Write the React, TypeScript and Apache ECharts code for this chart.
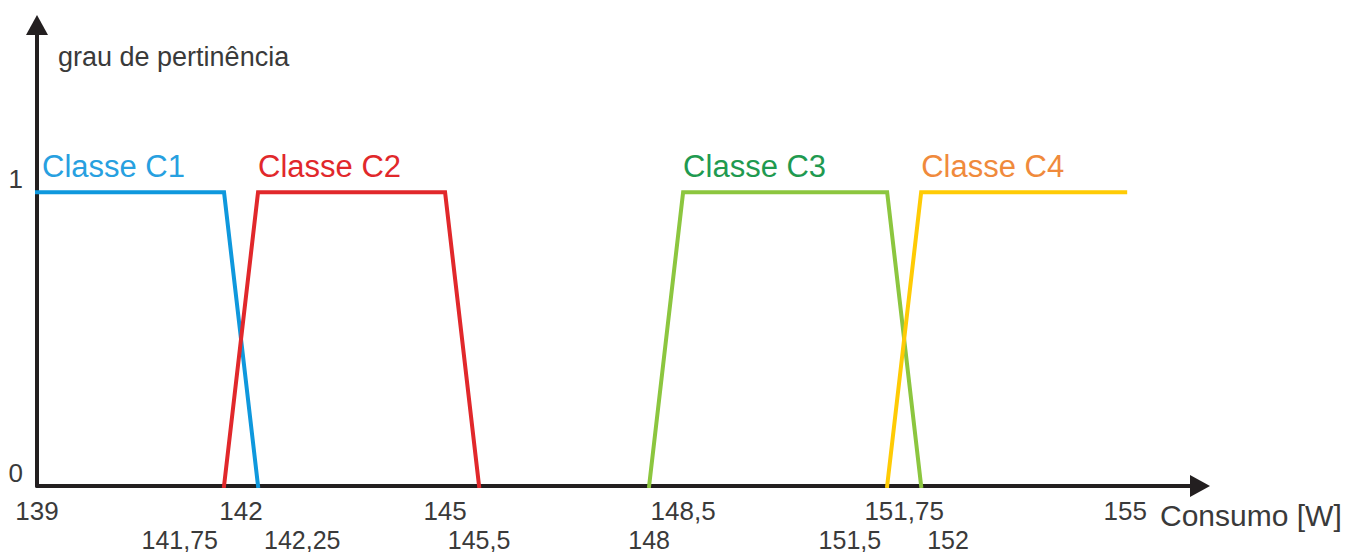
import React, { useEffect, useRef } from "react";
import * as echarts from "echarts";

// Membership classes (trapezoids): x = consumption [W], y = membership degree
const classNames = ["Classe C1", "Classe C2", "Classe C3", "Classe C4"];
const c1X = [139, 141.75, 142.25];
const c1Y = [1, 1, 0];
const c2X = [141.75, 142.25, 145, 145.5];
const c2Y = [0, 1, 1, 0];
const c3X = [148, 148.5, 151.5, 152];
const c3Y = [0, 1, 1, 0];
const c4X = [151.5, 152, 155];
const c4Y = [0, 1, 1];

// Tick labels (two rows under the axis)
const upperTicks = [139, 142, 145, 148.5, 151.75, 155];
const lowerTicks = [141.75, 142.25, 145.5, 148, 151.5, 152];
const yTicks = [0, 1];

const lineColors = ["#0f98dd", "#e1282b", "#8cc63f", "#ffcb05"];
const labelColors = ["#27a0e0", "#e1282b", "#1f9a50", "#f08a3c"];

const FONT = "'Liberation Sans', Arial, sans-serif";
const AXIS_COLOR = "#231f20";
const TEXT_COLOR = "#3a3a3a";
const X_MIN = 139;
const X_MAX = 156.1;

const fmt = (v: number) => String(v).replace(".", ",");

export default function App() {
  const ref = useRef<HTMLDivElement>(null);

  useEffect(() => {
    if (!ref.current) return;
    const chart = echarts.init(ref.current, null, { renderer: "svg" });

    const xs = [c1X, c2X, c3X, c4X];
    const ys = [c1Y, c2Y, c3Y, c4Y];

    const series = classNames.map((name, i) => {
      const labelIdx = ys[i].findIndex((y) => y === 1);
      return {
        name,
        type: "line",
        xAxisIndex: 0,
        yAxisIndex: 0,
        showSymbol: true,
        symbol: "circle",
        symbolSize: 0.01,
        z: 3,
        itemStyle: { color: lineColors[i] },
        label: { show: false },
        lineStyle: { color: lineColors[i], width: 4, cap: "square", join: "miter" },
        data: xs[i].map((x, j) => {
          const pt: any = { value: [x, ys[i][j]] };
          if (j === labelIdx) {
            pt.label = {
              show: true,
              position: "top",
              align: "left",
              distance: 10,
              padding: [0, 0, 0, i === 0 ? 5 : 0],
              formatter: name,
              color: labelColors[i],
              fontSize: 31,
              fontFamily: FONT,
            };
          }
          return pt;
        }),
      };
    });

    // Split lower-row ticks: crowded pairs are pushed apart (left one right-aligned,
    // right one left-aligned), the others stay centred.
    const lowerRight = lowerTicks.filter((v) => lowerTicks.some((t) => t > v && t - v < 0.6));
    const lowerLeft = lowerTicks.filter((v) => lowerTicks.some((t) => t < v && v - t < 0.6));
    const lowerCenter = lowerTicks.filter(
      (v) => !lowerRight.includes(v) && !lowerLeft.includes(v)
    );

    const lowerAxis = (values: number[], align: string, pad: number[]) => ({
      type: "value",
      position: "bottom",
      min: X_MIN,
      max: X_MAX,
      axisLine: { show: false },
      axisTick: { show: false },
      splitLine: { show: false },
      axisLabel: {
        customValues: values,
        formatter: fmt,
        showMinLabel: true,
        showMaxLabel: true,
        margin: 41,
        align,
        padding: pad,
        fontSize: 25,
        fontFamily: FONT,
        color: TEXT_COLOR,
      },
    });

    chart.setOption({
      animation: false,
      backgroundColor: "#ffffff",
      grid: { left: 37, right: 155, top: 25, bottom: 66, containLabel: false },
      xAxis: [
        {
          type: "value",
          position: "bottom",
          min: X_MIN,
          max: X_MAX,
          name: "Consumo [W]",
          nameLocation: "end",
          nameGap: -40,
          nameTextStyle: {
            fontSize: 30,
            fontFamily: FONT,
            color: TEXT_COLOR,
            align: "left",
            verticalAlign: "top",
            padding: [14, 0, 0, 0],
          },
          axisLine: {
            show: true,
            lineStyle: { color: AXIS_COLOR, width: 4 },
            symbol: ["none", "triangle"],
            symbolSize: [22, 20],
          },
          axisTick: { show: false },
          splitLine: { show: false },
          axisLabel: {
            customValues: upperTicks,
            formatter: fmt,
            showMinLabel: true,
            showMaxLabel: true,
            margin: 12,
            fontSize: 26,
            fontFamily: FONT,
            color: TEXT_COLOR,
          },
        },
        lowerAxis(lowerRight, "right", [0, 6, 0, 0]),
        lowerAxis(lowerLeft, "left", [0, 0, 0, 6]),
        lowerAxis(lowerCenter, "center", [0, 0, 0, 0]),
      ],
      yAxis: {
        type: "value",
        min: 0,
        max: 1.57,
        interval: 1,
        name: "grau de pertinência",
        nameLocation: "end",
        nameGap: -32,
        nameTextStyle: {
          fontSize: 27,
          fontFamily: FONT,
          color: TEXT_COLOR,
          align: "left",
          verticalAlign: "middle",
          padding: [0, 0, 0, 21],
        },
        axisLine: {
          show: true,
          lineStyle: { color: AXIS_COLOR, width: 4 },
          symbol: ["none", "triangle"],
          symbolSize: [22, 20],
        },
        axisTick: { show: false },
        splitLine: { show: false },
        axisLabel: {
          customValues: yTicks,
          showMinLabel: true,
          showMaxLabel: true,
          margin: 14,
          fontSize: 26,
          fontFamily: FONT,
          color: TEXT_COLOR,
          verticalAlign: "bottom",
        },
      },
      series,
    });

    return () => chart.dispose();
  }, []);

  return (
    <div
      ref={ref}
      style={{ position: "fixed", left: 0, top: 0, width: 1355, height: 552 }}
    />
  );
}
